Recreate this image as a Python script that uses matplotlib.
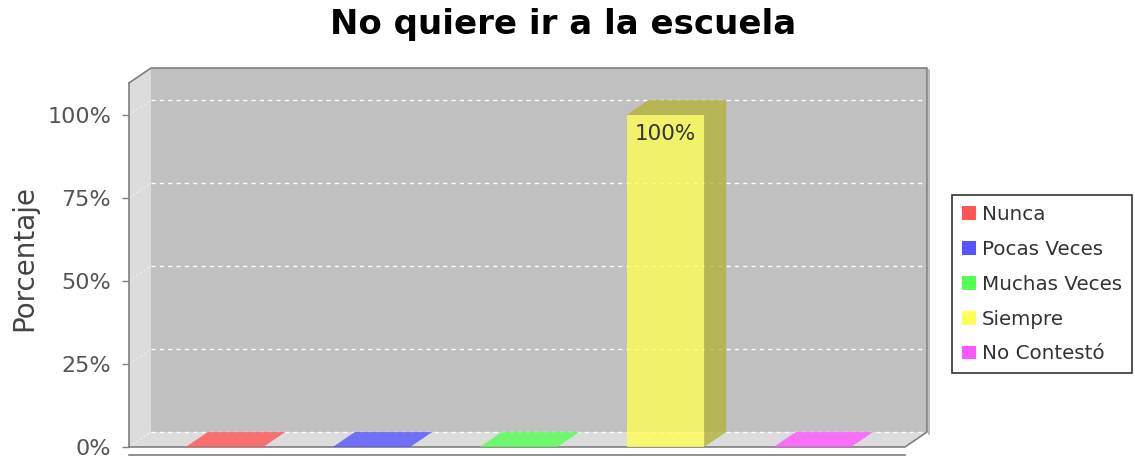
import matplotlib
matplotlib.use("Agg")
import matplotlib.pyplot as plt
from matplotlib.patches import Polygon, Patch
import matplotlib.colors as mcolors
import numpy as np

# data
categories = ["Nunca", "Pocas Veces", "Muchas Veces", "Siempre", "No Contestó"]
values = [0, 0, 0, 100, 0]
colors = ["#ff5555", "#5555ff", "#55ff55", "#ffff55", "#ff55ff"]
yticks = [0, 25, 50, 75, 100]
title = "No quiere ir a la escuela"
ylabel = "Porcentaje"

W, H = 1135, 457
fig = plt.figure(figsize=(W / 100, H / 100), dpi=100)
fig.patch.set_facecolor("white")

# front plane of the 3d plot, in pixels
left, right, bottom, top = 129, 905, 447, 83
ax = fig.add_axes([left / W, (H - bottom) / H, (right - left) / W, (bottom - top) / H])
ax.set_facecolor("none")

x = np.arange(len(categories))
x0, x1 = -0.65, 4.63
y0, y1 = 0, 109.64
ax.set_xlim(x0, x1)
ax.set_ylim(y0, y1)

# depth of the 3d effect in data units
dx = 22 / 147
dy = 15 / 3.32
bw = 0.527
alpha = 0.8

wall = "#c0c0c0"
side = "#dcdcdc"
edge = "#7f7f7f"

# back wall, left wall, floor
ax.add_patch(Polygon([(x0 + dx, y0 + dy), (x1 + dx, y0 + dy), (x1 + dx, y1 + dy), (x0 + dx, y1 + dy)],
                     closed=True, fc=wall, ec="none", clip_on=False, zorder=0))
ax.add_patch(Polygon([(x0, y0), (x0 + dx, y0 + dy), (x0 + dx, y1 + dy), (x0, y1)],
                     closed=True, fc=side, ec="none", clip_on=False, zorder=0))
ax.add_patch(Polygon([(x0, y0), (x1, y0), (x1 + dx, y0 + dy), (x0 + dx, y0 + dy)],
                     closed=True, fc=side, ec="none", clip_on=False, zorder=0))

# gridlines on the back wall and the left wall
for v in yticks:
    ax.plot([x0 + dx, x1 + dx], [v + dy, v + dy], color="white", lw=1,
            ls=(0, (3, 3)), clip_on=False, zorder=1)
    ax.plot([x0, x0 + dx], [v, v + dy], color="white", lw=0.8, alpha=0.6,
            ls=(0, (2, 2)), clip_on=False, zorder=1)

# outline of the box
ax.plot([x0, x0 + dx, x1 + dx, x1 + dx, x1, x0], [y1, y1 + dy, y1 + dy, y0 + dy, y0, y0],
        color=edge, lw=1.2, clip_on=False, zorder=1)
ax.plot([x1 + dx + 0.012, x1 + dx + 0.012], [y0 + dy - 0.6, y1 + dy - 0.6],
        color="#b0b0b0", lw=1.2, clip_on=False, zorder=1)

# bars
for xi, v, c in zip(x, values, colors):
    dark = tuple(np.array(mcolors.to_rgb(c)) * 0.7)
    xl, xr = xi - bw / 2, xi + bw / 2
    top_c = c if v == 0 else dark
    ax.add_patch(Polygon([(xl, v), (xr, v), (xr + dx, v + dy), (xl + dx, v + dy)],
                         closed=True, fc=top_c, ec="none", alpha=alpha, clip_on=False, zorder=2))
    if v > 0:
        ax.add_patch(Polygon([(xr, 0), (xr + dx, dy), (xr + dx, v + dy), (xr, v)],
                             closed=True, fc=dark, ec="none", alpha=alpha, clip_on=False, zorder=2))
ax.bar(x, values, width=bw, color=colors, alpha=alpha, zorder=3)

for xi, v in zip(x, values):
    if v > 0:
        ax.annotate(f"{v}%", (xi, v), xytext=(0, -14), textcoords="offset points",
                    ha="center", va="center", fontsize=15.5, color="#333333", zorder=4)

# axes
for s in ["top", "right"]:
    ax.spines[s].set_visible(False)
ax.spines["left"].set_color(edge)
ax.spines["left"].set_linewidth(1.2)
ax.spines["bottom"].set_position(("outward", 6))
ax.spines["bottom"].set_color(edge)
ax.spines["bottom"].set_linewidth(1.2)
ax.set_xticks([])
ax.set_yticks(yticks)
ax.set_yticklabels([f"{v}%" for v in yticks])
ax.tick_params(axis="y", length=5, width=1, color=edge, labelsize=16,
               labelcolor="#555555", pad=8)

fig.text(563 / W, 1 - 34 / H, title, ha="center", va="baseline",
         fontsize=24.5, fontweight="bold", color="black")
fig.text(24 / W, 1 - 258 / H, ylabel, ha="center", va="center", rotation=90,
         fontsize=20, color="#444444")

handles = [Patch(facecolor=c, edgecolor="none") for c in colors]
leg = fig.legend(handles, categories, loc="upper left",
                 bbox_to_anchor=(952 / W, 1 - 195 / H), frameon=True, fancybox=False,
                 fontsize=14.3, handlelength=0.7, handleheight=0.7, handletextpad=0.3,
                 labelspacing=0.8, borderpad=0.5, borderaxespad=0)
leg.get_frame().set_edgecolor("black")
leg.get_frame().set_linewidth(1.2)
for t in leg.get_texts():
    t.set_color("#333333")

fig.savefig("out.png", dpi=100)
